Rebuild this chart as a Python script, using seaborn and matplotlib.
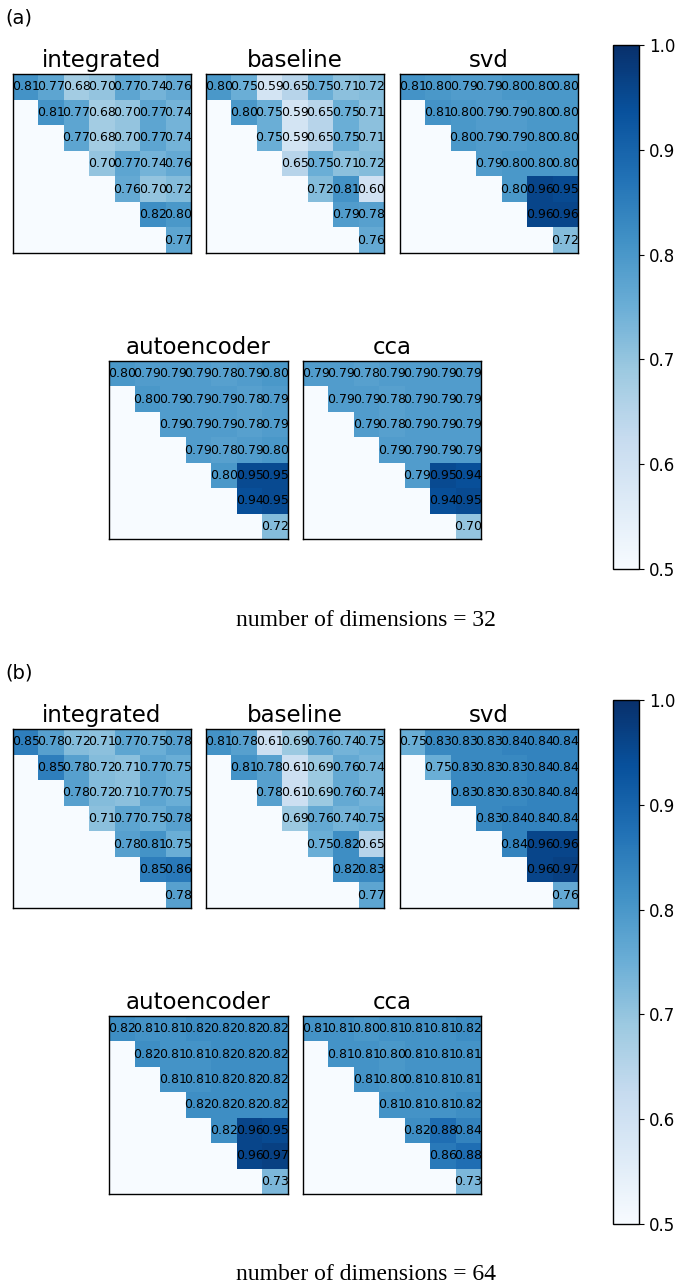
import numpy as np
import matplotlib
matplotlib.use('Agg')
import matplotlib.pyplot as plt
import seaborn as sns

# upper-triangle rows of each 7x7 similarity matrix
methods = ['integrated', 'baseline', 'svd', 'autoencoder', 'cca']
dims = [32, 64]

integrated_32 = [
    [0.81, 0.77, 0.68, 0.70, 0.77, 0.74, 0.76],
    [0.81, 0.77, 0.68, 0.70, 0.77, 0.74],
    [0.77, 0.68, 0.70, 0.77, 0.74],
    [0.70, 0.77, 0.74, 0.76],
    [0.76, 0.70, 0.72],
    [0.82, 0.80],
    [0.77],
]
baseline_32 = [
    [0.80, 0.75, 0.59, 0.65, 0.75, 0.71, 0.72],
    [0.80, 0.75, 0.59, 0.65, 0.75, 0.71],
    [0.75, 0.59, 0.65, 0.75, 0.71],
    [0.65, 0.75, 0.71, 0.72],
    [0.72, 0.81, 0.60],
    [0.79, 0.78],
    [0.76],
]
svd_32 = [
    [0.81, 0.80, 0.79, 0.79, 0.80, 0.80, 0.80],
    [0.81, 0.80, 0.79, 0.79, 0.80, 0.80],
    [0.80, 0.79, 0.79, 0.80, 0.80],
    [0.79, 0.80, 0.80, 0.80],
    [0.80, 0.96, 0.95],
    [0.96, 0.96],
    [0.72],
]
autoencoder_32 = [
    [0.80, 0.79, 0.79, 0.79, 0.78, 0.79, 0.80],
    [0.80, 0.79, 0.79, 0.79, 0.78, 0.79],
    [0.79, 0.79, 0.79, 0.78, 0.79],
    [0.79, 0.78, 0.79, 0.80],
    [0.80, 0.95, 0.95],
    [0.94, 0.95],
    [0.72],
]
cca_32 = [
    [0.79, 0.79, 0.78, 0.79, 0.79, 0.79, 0.79],
    [0.79, 0.79, 0.78, 0.79, 0.79, 0.79],
    [0.79, 0.78, 0.79, 0.79, 0.79],
    [0.79, 0.79, 0.79, 0.79],
    [0.79, 0.95, 0.94],
    [0.94, 0.95],
    [0.70],
]

integrated_64 = [
    [0.85, 0.78, 0.72, 0.71, 0.77, 0.75, 0.78],
    [0.85, 0.78, 0.72, 0.71, 0.77, 0.75],
    [0.78, 0.72, 0.71, 0.77, 0.75],
    [0.71, 0.77, 0.75, 0.78],
    [0.78, 0.81, 0.75],
    [0.85, 0.86],
    [0.78],
]
baseline_64 = [
    [0.81, 0.78, 0.61, 0.69, 0.76, 0.74, 0.75],
    [0.81, 0.78, 0.61, 0.69, 0.76, 0.74],
    [0.78, 0.61, 0.69, 0.76, 0.74],
    [0.69, 0.76, 0.74, 0.75],
    [0.75, 0.82, 0.65],
    [0.82, 0.83],
    [0.77],
]
svd_64 = [
    [0.75, 0.83, 0.83, 0.83, 0.84, 0.84, 0.84],
    [0.75, 0.83, 0.83, 0.83, 0.84, 0.84],
    [0.83, 0.83, 0.83, 0.84, 0.84],
    [0.83, 0.84, 0.84, 0.84],
    [0.84, 0.96, 0.96],
    [0.96, 0.97],
    [0.76],
]
autoencoder_64 = [
    [0.82, 0.81, 0.81, 0.82, 0.82, 0.82, 0.82],
    [0.82, 0.81, 0.81, 0.82, 0.82, 0.82],
    [0.81, 0.81, 0.82, 0.82, 0.82],
    [0.82, 0.82, 0.82, 0.82],
    [0.82, 0.96, 0.95],
    [0.96, 0.97],
    [0.73],
]
cca_64 = [
    [0.81, 0.81, 0.80, 0.81, 0.81, 0.81, 0.82],
    [0.81, 0.81, 0.80, 0.81, 0.81, 0.81],
    [0.81, 0.80, 0.81, 0.81, 0.81],
    [0.81, 0.81, 0.81, 0.82],
    [0.82, 0.88, 0.84],
    [0.86, 0.88],
    [0.73],
]

data = {
    32: [integrated_32, baseline_32, svd_32, autoencoder_32, cca_32],
    64: [integrated_64, baseline_64, svd_64, autoencoder_64, cca_64],
}
panel_labels = ['(a)', '(b)']


def to_matrix(rows):
    n = len(rows)
    mat = np.zeros((n, n))
    labels = np.full((n, n), '', dtype=object)
    for i, row in enumerate(rows):
        for k, v in enumerate(row):
            mat[i, i + k] = v
            labels[i, i + k] = f'{v:.2f}'
    return mat, labels


W, H = 683, 1285
fig = plt.figure(figsize=(W / 100, H / 100), dpi=100)


def px_axes(left, top, right, bottom):
    return fig.add_axes([left / W, 1 - bottom / H, (right - left) / W, (bottom - top) / H])


# pixel boxes for the five heatmaps of one panel (panel (a) coordinates)
boxes = [
    (13, 74, 191, 253),
    (206, 74, 384, 253),
    (400, 74, 578, 253),
    (109, 361, 288, 539),
    (303, 361, 481, 539),
]
offset = 655

for p, d in enumerate(dims):
    dy = p * offset
    fig.text(5 / W, 1 - (18 + dy) / H, panel_labels[p], fontsize=14,
             ha='left', va='center')
    hm = None
    for name, rows, (l, t, r, b) in zip(methods, data[d], boxes):
        ax = px_axes(l, t + dy, r, b + dy)
        mat, labels = to_matrix(rows)
        sns.heatmap(mat, ax=ax, cmap='Blues', vmin=0.5, vmax=1.0,
                    annot=labels, fmt='', cbar=False,
                    annot_kws={'fontsize': 9, 'color': 'black'},
                    xticklabels=False, yticklabels=False)
        for sp in ax.spines.values():
            sp.set_visible(True)
            sp.set_color('black')
            sp.set_linewidth(1)
        ax.set_title(name, fontsize=16.5, pad=5)
        hm = ax.collections[0]

    cax = px_axes(613, 45 + dy, 639, 569 + dy)
    cb = fig.colorbar(hm, cax=cax, ticks=[0.5, 0.6, 0.7, 0.8, 0.9, 1.0])
    cb.ax.tick_params(labelsize=12)
    cb.outline.set_edgecolor('black')
    cb.outline.set_linewidth(1)

    fig.text(366 / W, 1 - (620 + dy) / H, f'number of dimensions = {d}',
             fontsize=17, family='Liberation Serif', ha='center', va='center')

fig.savefig('out.png', dpi=100)
